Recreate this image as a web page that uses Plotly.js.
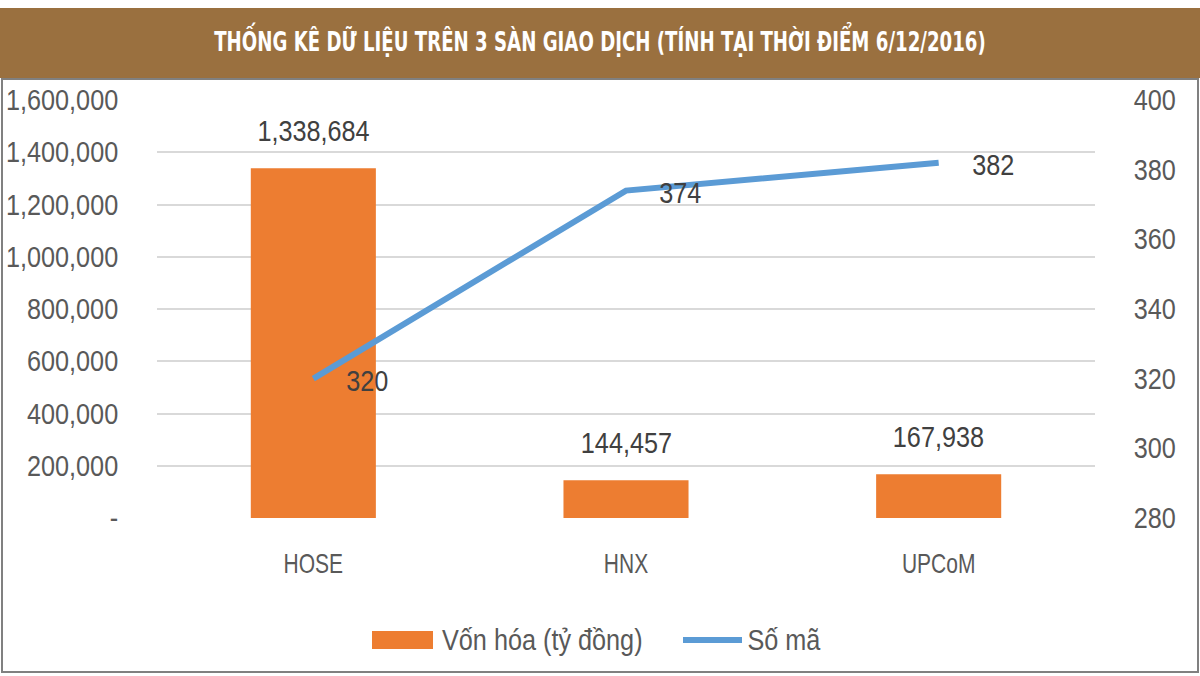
<!DOCTYPE html>
<html>
<head>
<meta charset="utf-8">
<script src="https://cdn.plot.ly/plotly-3.0.1.min.js"></script>
<style>html,body{margin:0;padding:0;background:#fff;}#chart{width:1200px;height:676px;}</style>
</head>
<body>
<div id="chart"></div>
<script>
const categories = ["HOSE", "HNX", "UPCoM"];
const vonHoa = [1338684, 144457, 167938];
const soMa = [320, 374, 382];
const leftTickVals = [0, 200000, 400000, 600000, 800000, 1000000, 1200000, 1400000, 1600000];
const leftTickText = ["-", "200,000", "400,000", "600,000", "800,000", "1,000,000", "1,200,000", "1,400,000", "1,600,000"];
const rightTickVals = [280, 300, 320, 340, 360, 380, 400];
const titleText = "THỐNG KÊ DỮ LIỆU TRÊN 3 SÀN GIAO DỊCH (TÍNH TẠI THỜI ĐIỂM 6/12/2016)";
const barName = "Vốn hóa (tỷ đồng)";
const lineName = "Số mã";

const W = 1200, H = 676;
const L = 157, R = 105, T = 100, B = 158;
const PW = W - L - R, PH = H - T - B;
const px = v => (v - L) / PW;
const py = v => (H - B - v) / PH;

const FONT = "Liberation Sans, Arial, sans-serif";
const TFONT = "DejaVu Sans Condensed, Liberation Sans Narrow, sans-serif";
const tickFont = {family: FONT, size: 29, color: "#595959"};
const catFont = {family: FONT, size: 28, color: "#595959"};
const labelFont = {family: FONT, size: 29, color: "#404040"};

const traces = [
  {
    type: "bar", x: categories, y: vonHoa, name: barName,
    marker: {color: "#ED7D31"}, yaxis: "y", showlegend: false, hoverinfo: "skip"
  },
  {
    type: "scatter", mode: "lines", x: categories, y: soMa, name: lineName,
    line: {color: "#5B9BD5", width: 6}, yaxis: "y2", showlegend: false, hoverinfo: "skip"
  }
];

const annotations = [];
categories.forEach((c, i) => {
  annotations.push({x: c, y: vonHoa[i], xref: "x", yref: "y", text: vonHoa[i].toLocaleString("en-US"),
    showarrow: false, yshift: 37, font: labelFont, xanchor: "center", yanchor: "middle"});
  annotations.push({x: c, y: soMa[i], xref: "x", yref: "y2", text: String(soMa[i]),
    showarrow: false, xshift: 54, yshift: -2, font: labelFont, xanchor: "center", yanchor: "middle"});
});
annotations.push({xref: "paper", yref: "paper", x: px(542), y: py(640), text: barName, showarrow: false,
  xanchor: "center", yanchor: "middle", font: tickFont});
annotations.push({xref: "paper", yref: "paper", x: px(784), y: py(640), text: lineName, showarrow: false,
  xanchor: "center", yanchor: "middle", font: tickFont});

const shapes = [
  {type: "rect", xref: "paper", yref: "paper", x0: px(0), x1: px(1200), y0: py(78), y1: py(8),
    fillcolor: "#9A703F", line: {width: 0}, layer: "below"},
  {type: "rect", xref: "paper", yref: "paper", x0: px(2), x1: px(1198), y0: py(672), y1: py(79),
    fillcolor: "rgba(0,0,0,0)", line: {color: "#808080", width: 2}, layer: "below"},
  {type: "rect", xref: "paper", yref: "paper", x0: px(372), x1: px(433), y0: py(649), y1: py(631),
    fillcolor: "#ED7D31", line: {width: 0}},
  {type: "line", xref: "paper", yref: "paper", x0: px(683), x1: px(742), y0: py(640), y1: py(640),
    line: {color: "#5B9BD5", width: 6}}
];

const layout = {
  width: W, height: H,
  margin: {l: L, r: R, t: T, b: B, pad: 0},
  paper_bgcolor: "#ffffff", plot_bgcolor: "#ffffff",
  title: {text: titleText, x: 0.5, xref: "container", xanchor: "center",
    y: 1 - 42 / H, yref: "container", yanchor: "middle",
    font: {family: TFONT, size: 26, weight: "bold", color: "#ffffff"}},
  bargap: 0.6,
  showlegend: false,
  xaxis: {
    type: "category", tickfont: catFont, showgrid: false, zeroline: false, showline: false,
    ticks: "outside", ticklen: 20, tickcolor: "rgba(0,0,0,0)", fixedrange: true
  },
  yaxis: {
    range: [0, 1600000], tickvals: leftTickVals, ticktext: leftTickText, tickfont: tickFont,
    showgrid: true, gridcolor: "#D9D9D9", gridwidth: 2, zeroline: false, showline: false,
    ticks: "outside", ticklen: 32, tickcolor: "rgba(0,0,0,0)", fixedrange: true
  },
  yaxis2: {
    range: [280, 400], tickvals: rightTickVals, overlaying: "y", side: "right", tickfont: tickFont,
    showgrid: false, zeroline: false, showline: false,
    ticks: "outside", ticklen: 32, tickcolor: "rgba(0,0,0,0)", fixedrange: true
  },
  shapes: shapes,
  annotations: annotations
};

function condense(el, factor) {
  const w = el.getComputedTextLength();
  el.setAttribute("textLength", String(w * factor));
  el.setAttribute("lengthAdjust", "spacingAndGlyphs");
}

Plotly.newPlot("chart", traces, layout, {staticPlot: true, displayModeBar: false}).then(gd => {
  // the reference uses narrow fonts; condense the real text glyphs horizontally
  const t = gd.querySelector(".gtitle");
  if (t) {
    const w = t.getComputedTextLength();
    const sx = 772 / w;
    const cx = W / 2;
    t.setAttribute("transform", "translate(" + cx + ",0) scale(" + sx + ",1) translate(" + (-cx) + ",0)");
  }
  gd.querySelectorAll(".xtick text").forEach(el => condense(el, 0.75));
  gd.querySelectorAll(".ytick text, .y2tick text").forEach(el => condense(el, 0.87));
  gd.querySelectorAll(".annotation-text").forEach(el => condense(el, 0.87));
});
</script>
</body>
</html>
